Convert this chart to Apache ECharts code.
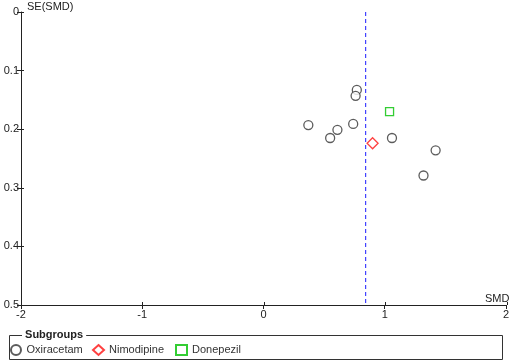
<!DOCTYPE html>
<html>
<head>
<meta charset="utf-8">
<script src="https://cdn.jsdelivr.net/npm/echarts@6/dist/echarts.min.js"></script>
<style>
  html, body { margin: 0; padding: 0; background: #fff; }
  #chart { width: 512px; height: 361px; }
</style>
</head>
<body>
<div id="chart"></div>
<script>
// funnel plot data
const oxiSmd = [0.77, 0.76, 0.37, 0.61, 0.55, 0.74, 1.06, 1.42, 1.32]
const oxiSe = [0.133, 0.143, 0.193, 0.201, 0.215, 0.191, 0.215, 0.236, 0.279]
const nimoSmd = [0.90]
const nimoSe = [0.224]
const donepSmd = [1.04]
const donepSe = [0.170]
const pooledSmd = 0.843
const xRange = [-2, 2]
const yRange = [0, 0.5]

const font = 'Liberation Sans, Arial, sans-serif'
const pairs = (xs, ys) => xs.map((x, i) => [x, ys[i]])

const chart = echarts.init(document.getElementById('chart'))

const gridBox = { left: 21, right: 5, top: 12, bottom: 56 }

// builds an axis; the second grid only carries the inner half of each tick
const xAx = (gridIndex, inner) => ({
  type: 'value', gridIndex, min: xRange[0], max: xRange[1], interval: 1,
  position: 'bottom',
  axisLine: { show: !inner, onZero: false, lineStyle: { color: '#222', width: 1 } },
  axisTick: { show: true, inside: inner, length: inner ? 3 : 4, lineStyle: { color: '#222' } },
  axisLabel: { show: !inner, color: '#222', fontFamily: font, fontSize: 11, margin: 4 },
  splitLine: { show: false },
})

const yAx = (gridIndex, inner) => ({
  type: 'value', gridIndex, min: yRange[0], max: yRange[1], interval: 0.1, inverse: true,
  position: 'left',
  axisLine: { show: !inner, onZero: false, lineStyle: { color: '#222', width: 1 } },
  axisTick: { show: true, inside: inner, length: inner ? 3 : 4, lineStyle: { color: '#222' } },
  axisLabel: { show: !inner, color: '#222', fontFamily: font, fontSize: 11, margin: 2 },
  splitLine: { show: false },
})

const legendOf = (name, left) => ({
  left, top: 339,
  itemWidth: 11, itemHeight: 10,
  textStyle: { color: '#333', fontFamily: font, fontSize: 11 },
  data: [name],
  selectedMode: false,
})

chart.setOption({
  animation: false,
  grid: [gridBox, gridBox],
  xAxis: [xAx(0, false), xAx(1, true)],
  yAxis: [yAx(0, false), yAx(1, true)],
  legend: [
    legendOf('Oxiracetam', 5),
    legendOf('Nimodipine', 87),
    legendOf('Donepezil', 170),
  ],
  graphic: [
    {
      type: 'rect', left: 7, top: 333, silent: true,
      shape: { width: 493, height: 24 },
      style: { fill: 'none', stroke: '#333', lineWidth: 1 },
    },
    {
      type: 'text', left: 22, top: 329,
      style: { text: ' Subgroups ', fill: '#222', font: 'bold 11px ' + font, backgroundColor: '#fff' },
    },
    {
      type: 'text', left: 27, top: 1,
      style: { text: 'SE(SMD)', fill: '#222', font: '11px ' + font },
    },
    {
      type: 'text', left: 485, top: 293,
      style: { text: 'SMD', fill: '#222', font: '11px ' + font },
    },
  ],
  series: [
    {
      name: 'pooled', type: 'line', symbol: 'none', silent: true,
      lineStyle: { color: '#1c1cff', type: [4, 3], width: 1 },
      data: [[pooledSmd, yRange[0]], [pooledSmd, yRange[1]]],
      z: 2,
    },
    {
      name: 'Oxiracetam', type: 'scatter', symbol: 'circle', symbolSize: 9,
      itemStyle: { color: '#fff', borderColor: '#333', borderWidth: 1.3 },
      data: pairs(oxiSmd, oxiSe),
      z: 3,
    },
    {
      name: 'Nimodipine', type: 'scatter', symbol: 'diamond', symbolSize: 11,
      itemStyle: { color: '#fff', borderColor: '#ff1010', borderWidth: 1.3 },
      data: pairs(nimoSmd, nimoSe),
      z: 4,
    },
    {
      name: 'Donepezil', type: 'scatter', symbol: 'rect', symbolSize: 8,
      itemStyle: { color: '#fff', borderColor: '#00c000', borderWidth: 1.3 },
      data: pairs(donepSmd, donepSe),
      z: 4,
    },
  ],
})
</script>
</body>
</html>
